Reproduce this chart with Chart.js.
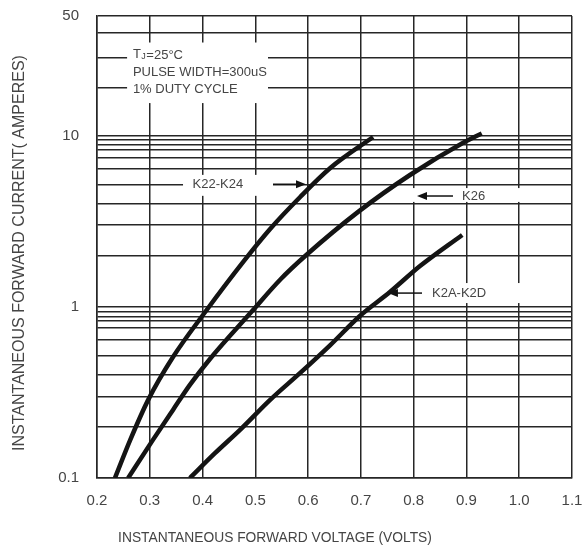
<!DOCTYPE html>
<html><head><meta charset="utf-8">
<script src="https://cdn.jsdelivr.net/npm/chart.js@4.4.1/dist/chart.umd.min.js"></script>
<style>html,body{margin:0;padding:0;background:#fff}#wrap{width:584px;height:556px}</style>
</head><body><div id="wrap"><canvas id="c" width="584" height="556"></canvas></div>
<script>
// ---- data ----
const xTickValues = [0.2, 0.3, 0.4, 0.5, 0.6, 0.7, 0.8, 0.9, 1.0, 1.1];
const yLabelValues = [0.1, 1, 10, 50];
const yGridValues = [0.1, 0.2, 0.3, 0.4, 0.52, 0.64, 0.75, 0.83, 0.87, 0.93, 1,
                     2, 3, 4, 5.2, 6.4, 7.4, 8.3, 8.9, 9.4, 10, 19, 28.5, 40, 50];
const k22Volts = [0.234, 0.263, 0.297, 0.344, 0.405, 0.480, 0.528, 0.585, 0.642, 0.723];
const k22Amps  = [0.1, 0.167, 0.286, 0.509, 0.933, 1.88, 2.85, 4.38, 6.47, 9.82];
const k26Volts = [0.259, 0.306, 0.344, 0.376, 0.414, 0.494, 0.547, 0.596, 0.696, 0.793, 0.893, 0.929];
const k26Amps  = [0.1, 0.167, 0.250, 0.350, 0.496, 0.945, 1.44, 2.00, 3.61, 5.89, 9.06, 10.3];
const k2aVolts = [0.376, 0.424, 0.471, 0.528, 0.585, 0.642, 0.698, 0.755, 0.812, 0.892];
const k2aAmps  = [0.1, 0.140, 0.191, 0.286, 0.411, 0.598, 0.884, 1.22, 1.73, 2.63];
const seriesNames = ['K22-K24', 'K26', 'K2A-K2D'];
const noteLines = ['PULSE WIDTH=300uS', '1% DUTY CYCLE'];
const xTitle = 'INSTANTANEOUS FORWARD VOLTAGE (VOLTS)';
const yTitle = 'INSTANTANEOUS FORWARD CURRENT( AMPERES)';

const FONT = "'Liberation Sans', Arial, sans-serif";
const TXT = '#454545';
const GRID = '#262626';
const toPts = (xs, ys) => xs.map((v, i) => ({x: v, y: ys[i]}));

const annot = {
  id: 'annot',
  beforeDatasetsDraw(chart) {
    const {ctx} = chart;
    const X = v => chart.scales.x.getPixelForValue(v);
    const Y = v => chart.scales.y.getPixelForValue(v);
    const box = (v0, v1, i0, i1) => { const x0 = X(v0), y0 = Y(i0); ctx.fillRect(x0, y0, X(v1) - x0, Y(i1) - y0); };
    ctx.save();
    ctx.fillStyle = '#fff';
    box(0.257, 0.524, 35, 15.5);      // note box
    box(0.363, 0.5335, 5.9, 4.45);    // K22-K24
    box(0.7987, 1.064, 4.94, 4.1);    // K26
    box(0.8252, 1.0204, 1.377, 1.052);// K2A-K2D
    ctx.restore();
  },
  afterDatasetsDraw(chart) {
    const {ctx} = chart;
    const X = v => chart.scales.x.getPixelForValue(v);
    const Y = v => chart.scales.y.getPixelForValue(v);
    ctx.save();
    ctx.fillStyle = TXT;
    ctx.textBaseline = 'middle';
    ctx.textAlign = 'left';
    // note text
    const nx = X(0.268), ny = Y(35);
    ctx.font = '13px ' + FONT;
    ctx.fillText('T', nx, ny + 12);
    const tw = ctx.measureText('T').width;
    ctx.font = '9px ' + FONT;
    ctx.textBaseline = 'alphabetic';
    ctx.fillText('J', nx + tw + 0.5, ny + 12 + 4.6);
    const jw = ctx.measureText('J').width;
    ctx.font = '13px ' + FONT;
    ctx.fillText('=25°C', nx + tw + jw + 1, ny + 12 + 4.6);
    ctx.textBaseline = 'middle';
    ctx.fillText(noteLines[0], nx, ny + 30);
    ctx.fillText(noteLines[1], nx, ny + 47);
    // series labels
    ctx.font = '13px ' + FONT;
    const yA = Y(5.2), yB = Y(4.44), yC = Y(1.203);
    ctx.fillText(seriesNames[0], X(0.381), yA);
    ctx.fillText(seriesNames[1], X(0.8916), yB);
    ctx.fillText(seriesNames[2], X(0.8347), yC);
    // arrows
    ctx.strokeStyle = '#111'; ctx.fillStyle = '#111'; ctx.lineWidth = 1.5;
    const arrow = (xt, xTip, y) => {
      const d = xTip > xt ? 1 : -1;
      ctx.beginPath(); ctx.moveTo(xt, y); ctx.lineTo(xTip - d * 7, y); ctx.stroke();
      ctx.beginPath(); ctx.moveTo(xTip, y); ctx.lineTo(xTip - d * 10, y - 4); ctx.lineTo(xTip - d * 10, y + 4); ctx.closePath(); ctx.fill();
    };
    arrow(X(0.5335), X(0.596), yA);
    arrow(X(0.8745), X(0.8063), yB);
    arrow(X(0.8158), X(0.7513), yC);
    // axis titles
    ctx.fillStyle = TXT;
    ctx.textAlign = 'center';
    ctx.font = '13.8px ' + FONT;
    ctx.fillText(xTitle, 275, 538);
    ctx.translate(20, 253);
    ctx.rotate(-Math.PI / 2);
    ctx.font = '16px ' + FONT;
    ctx.fillText(yTitle, 0, 0);
    ctx.restore();
  }
};

const lineStyle = {borderColor: '#141414', borderWidth: 4.5, pointRadius: 0, cubicInterpolationMode: 'monotone', borderCapStyle: 'butt', fill: false};

new Chart(document.getElementById('c'), {
  type: 'line',
  data: {
    datasets: [
      Object.assign({label: seriesNames[0], data: toPts(k22Volts, k22Amps)}, lineStyle),
      Object.assign({label: seriesNames[1], data: toPts(k26Volts, k26Amps)}, lineStyle),
      Object.assign({label: seriesNames[2], data: toPts(k2aVolts, k2aAmps)}, lineStyle)
    ]
  },
  options: {
    responsive: false,
    animation: false,
    devicePixelRatio: 1,
    layout: {padding: {top: 16, right: 12, left: 0, bottom: 0}},
    plugins: {legend: {display: false}, tooltip: {enabled: false}},
    scales: {
      x: {
        type: 'linear', min: 0.2, max: 1.1,
        afterBuildTicks: s => { s.ticks = xTickValues.map(v => ({value: v})); },
        afterFit: s => { s.height = 78; s.paddingLeft = 0; s.paddingRight = 0; },
        grid: {color: GRID, lineWidth: 1.5, drawTicks: false},
        border: {color: GRID, width: 1.5},
        ticks: {autoSkip: false, maxRotation: 0, padding: 14, color: TXT, font: {size: 15, family: FONT},
                callback: v => Number(v).toFixed(1)}
      },
      y: {
        type: 'logarithmic', min: 0.1, max: 50,
        afterBuildTicks: s => { s.ticks = yGridValues.map(v => ({value: v})); },
        afterFit: s => { s.width = 97; s.paddingTop = 0; s.paddingBottom = 0; },
        grid: {color: GRID, lineWidth: 1.5, drawTicks: false},
        border: {color: GRID, width: 1.5},
        ticks: {autoSkip: false, padding: 18, color: TXT, font: {size: 15, family: FONT},
                callback: v => yLabelValues.includes(v) ? String(v) : ''}
      }
    }
  },
  plugins: [annot]
});
</script></body></html>
